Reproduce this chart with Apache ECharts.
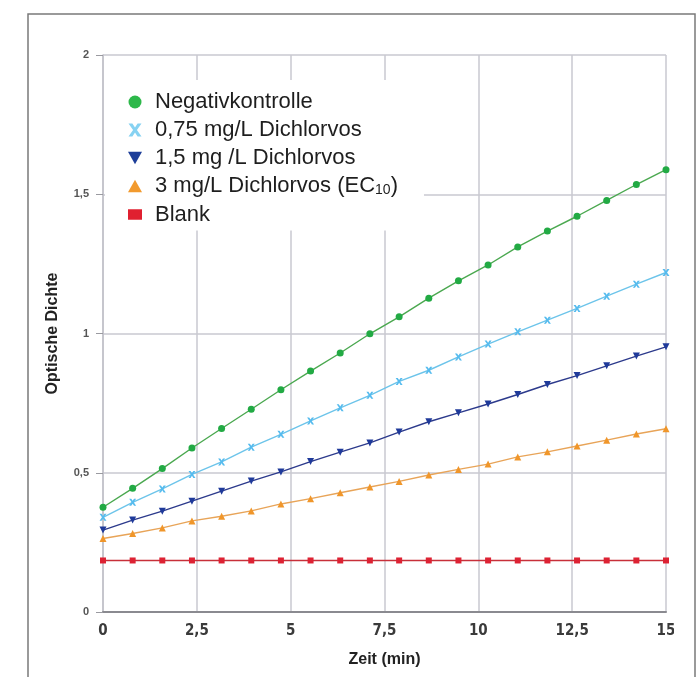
<!doctype html>
<html lang="de">
<head>
<meta charset="utf-8">
<title>Optische Dichte</title>
<script src="https://cdn.jsdelivr.net/npm/echarts@6/dist/echarts.min.js"></script>
<style>
  html, body { margin: 0; height: 100%; background: #fff; }
  #chart { width: 697px; height: 677px; }
</style>
</head>
<body>
<div id="chart"></div>
<script>
// Zeitpunkte (min), 20 Messungen
const zeit = [0, 0.79, 1.58, 2.37, 3.16, 3.95, 4.74, 5.53, 6.32, 7.11,
              7.89, 8.68, 9.47, 10.26, 11.05, 11.84, 12.63, 13.42, 14.21, 15];

const seriesNames = ['Negativkontrolle', '0,75 mg/L Dichlorvos', '1,5 mg /L Dichlorvos',
                     '3 mg/L Dichlorvos (EC10)', 'Blank'];

const negativ = [0.376, 0.444, 0.515, 0.589, 0.659, 0.728, 0.798, 0.865, 0.930, 0.999,
                 1.060, 1.127, 1.189, 1.246, 1.311, 1.368, 1.421, 1.478, 1.535, 1.588];
const dv075 = [0.340, 0.394, 0.442, 0.494, 0.539, 0.592, 0.638, 0.686, 0.733, 0.778,
               0.828, 0.868, 0.916, 0.962, 1.006, 1.048, 1.090, 1.134, 1.177, 1.219];
const dv15 = [0.294, 0.330, 0.362, 0.398, 0.434, 0.470, 0.503, 0.540, 0.574, 0.607,
              0.646, 0.683, 0.715, 0.747, 0.781, 0.817, 0.849, 0.884, 0.919, 0.952];
const dv3 = [0.264, 0.282, 0.302, 0.327, 0.344, 0.363, 0.388, 0.407, 0.428, 0.449,
             0.469, 0.492, 0.512, 0.531, 0.557, 0.575, 0.596, 0.617, 0.639, 0.658];
const blank = [0.185, 0.185, 0.185, 0.185, 0.185, 0.185, 0.185, 0.185, 0.185, 0.185,
               0.185, 0.185, 0.185, 0.185, 0.185, 0.185, 0.185, 0.185, 0.185, 0.185];

const xTickLabels = ['0', '2,5', '5', '7,5', '10', '12,5', '15'];
const yTickLabels = ['0', '0,5', '1', '1,5', '2'];

const crossPath = 'path://M0,0 L3,0 L5,3 L7,0 L10,0 L6.5,5 L10,10 L7,10 L5,7 L3,10 L0,10 L3.5,5 Z';
const downPath = 'path://M0,0 L10,0 L5,9 Z';
const upPath = 'path://M5,0 L10,9 L0,9 Z';

function pairs(ys) {
  return zeit.map((t, i) => [t, ys[i]]);
}

function makeSeries(name, ys, lineColor, markColor, symbol, size) {
  return {
    name: name,
    type: 'line',
    data: pairs(ys),
    symbol: symbol,
    symbolSize: size,
    showAllSymbol: true,
    clip: false,
    lineStyle: { color: lineColor, width: 1.4 },
    itemStyle: { color: markColor, borderWidth: 0 },
    emphasis: { disabled: true }
  };
}

const chart = echarts.init(document.getElementById('chart'));
chart.setOption({
  animation: false,
  backgroundColor: '#fff',
  grid: { left: 103, right: 31, top: 55, bottom: 65 },
  xAxis: {
    type: 'value', min: 0, max: 15, interval: 2.5,
    name: 'Zeit (min)', nameLocation: 'middle', nameGap: 40,
    nameTextStyle: { fontSize: 16, fontWeight: 'bold', color: '#222', fontFamily: 'Liberation Sans, Arial, sans-serif' },
    axisLine: { lineStyle: { color: '#8a8a90', width: 2 } },
    axisTick: { show: false },
    axisLabel: {
      margin: 12, fontSize: 15, color: '#3a3a3a', fontWeight: 'bold',
      fontFamily: "'Liberation Sans Narrow', 'DejaVu Sans Condensed', 'Liberation Sans', sans-serif",
      formatter: v => xTickLabels[Math.round(v / 2.5)]
    },
    splitLine: { show: true, lineStyle: { color: '#c9c9d0', width: 1.5 } }
  },
  yAxis: {
    type: 'value', min: 0, max: 2, interval: 0.5,
    name: 'Optische Dichte', nameLocation: 'middle', nameGap: 42, nameRotate: 90,
    nameTextStyle: { fontSize: 16, fontWeight: 'bold', color: '#222', fontFamily: 'Liberation Sans, Arial, sans-serif' },
    axisLine: { show: true, lineStyle: { color: '#c0c0c8', width: 1.5 } },
    axisTick: { show: true, length: 7, lineStyle: { color: '#9a9aa0', width: 1 } },
    axisLabel: {
      margin: 14, fontSize: 11, color: '#555', fontWeight: 'bold',
      fontFamily: "'Liberation Sans Narrow', 'Liberation Sans', sans-serif",
      formatter: v => yTickLabels[Math.round(v / 0.5)]
    },
    splitLine: { show: true, lineStyle: { color: '#c9c9d0', width: 1.5 } }
  },
  legend: {
    orient: 'vertical',
    left: 105, top: 80,
    padding: [11, 26, 5, 23],
    backgroundColor: '#fff',
    itemWidth: 14, itemHeight: 13, itemGap: 6,
    selectedMode: false,
    data: [
      { name: seriesNames[0], icon: 'circle', itemStyle: { color: '#2db84a' } },
      { name: seriesNames[1], icon: crossPath, itemStyle: { color: '#86d2f2' } },
      { name: seriesNames[2], icon: downPath, itemStyle: { color: '#1d3e99' } },
      { name: seriesNames[3], icon: upPath, itemStyle: { color: '#f29a2e' } },
      { name: seriesNames[4], icon: 'path://M0,0 L12,0 L12,9 L0,9 Z', itemStyle: { color: '#e02030' } }
    ],
    formatter: n => n === seriesNames[3] ? '3 mg/L Dichlorvos (EC{sub|10})' : n,
    textStyle: {
      fontSize: 22, lineHeight: 21, color: '#1e1e1e', padding: [0, 0, 0, 8],
      fontFamily: 'Liberation Sans, Arial, sans-serif',
      rich: { sub: { fontSize: 14, color: '#1e1e1e', padding: [9, 0, 0, 0] } }
    }
  },
  series: [
    makeSeries(seriesNames[0], negativ, '#4aa84f', '#22aa44', 'circle', 7),
    makeSeries(seriesNames[1], dv075, '#6cc4ea', '#55bbee', crossPath, 7),
    makeSeries(seriesNames[2], dv15, '#2c3a8c', '#1f3a9a', downPath, 7),
    makeSeries(seriesNames[3], dv3, '#e8a458', '#f0962a', upPath, 7),
    makeSeries(seriesNames[4], blank, '#c8303a', '#dd2233', 'rect', 6)
  ],
  graphic: [
    // Bild ist rechts beschnitten
    { type: 'rect', z: 100, shape: { x: 674, y: 15, width: 20, height: 662 }, style: { fill: '#fff' } },
    { type: 'rect', z: 101, shape: { x: 28, y: 14, width: 667, height: 700 },
      style: { fill: 'none', stroke: '#7a7a7a', lineWidth: 1.5 } }
  ]
});
</script>
</body>
</html>
